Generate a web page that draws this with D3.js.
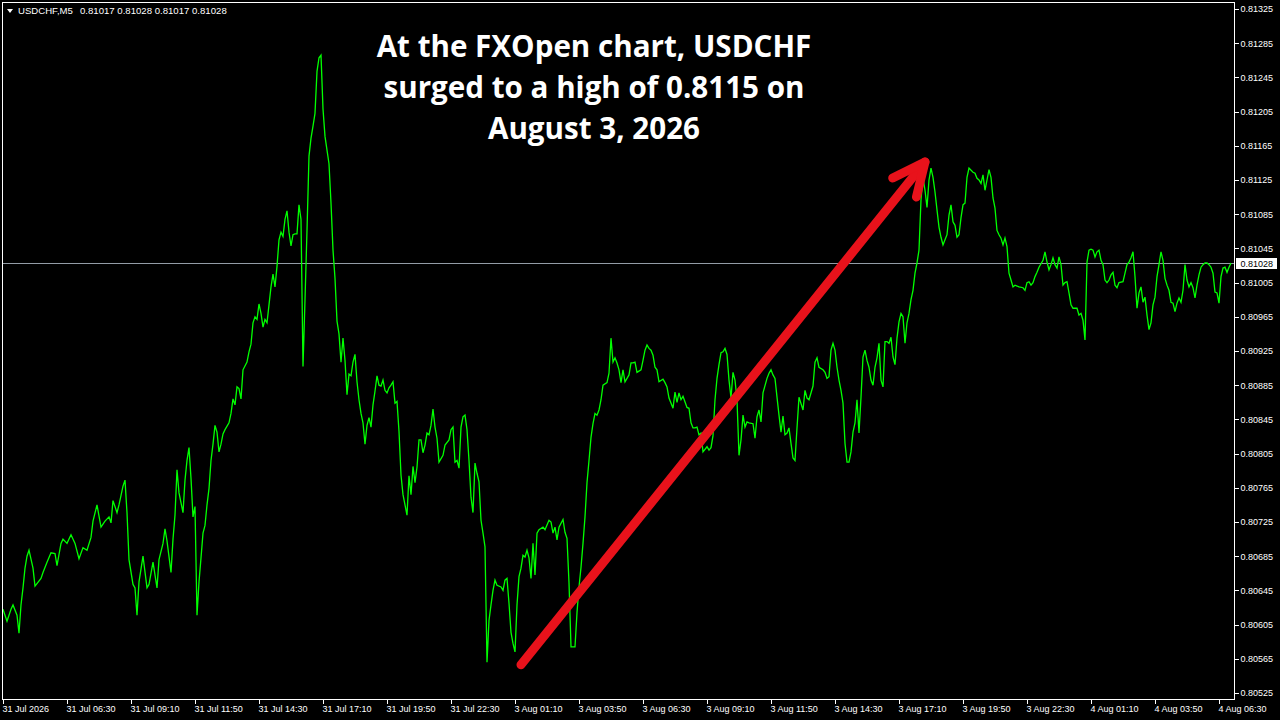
<!DOCTYPE html>
<html><head><meta charset="utf-8">
<script src="https://cdnjs.cloudflare.com/ajax/libs/d3/7.8.5/d3.min.js"></script>
<style>
html,body{margin:0;padding:0;background:#000;}
svg{display:block;}
.ax text{font-family:"Liberation Sans",Arial,sans-serif;font-size:9px;fill:#fff;}
.ax line{stroke:#fff;}
</style></head><body>
<script>
// ---- data: USDCHF M5 closes, [bar index from first bar, close price] ----
const symbol = "USDCHF,M5";
const lastOHLC = ["0.81017","0.81028","0.81017","0.81028"];
const bidPrice = 0.81028;
const closesJul31 = [[0,.80623],[2,.80609],[4,.80623],[5,.80628],[7,.80616],[8,.80595],[9,.80628],[10,.80648],[11,.80671],[12,.80685],[13,.80692],[15,.80671],[16,.80650],[19,.80659],[20,.80666],[22,.80678],[24,.80689],[26,.80688],[27,.80674],[29,.80700],[30,.80705],[32,.80700],[34,.80710],[36,.80700],[38,.80682],[40,.80695],[42,.80692],[44,.80707],[45,.80726],[47,.80745],[49,.80719],[51,.80726],[53,.80731],[54,.80724],[55,.80750],[57,.80736],[58,.80745],[60,.80767],[61,.80774],[62,.80736],[63,.80681],[65,.80652],[66,.80648],[67,.80616],[68,.80655],[70,.80685],[72,.80648],[73,.80652],[75,.80678],[77,.80648],[78,.80681],[80,.80700],[81,.80717],[82,.80703],[84,.80666],[85,.80705],[86,.80733],[87,.80786],[88,.80759],[90,.80736],[91,.80774],[92,.80797],[93,.80812],[94,.80776],[95,.80731],[96,.80743],[97,.80616],[98,.80655],[99,.80683],[100,.80712],[101,.80721],[102,.80745],[103,.80764],[104,.80797],[105,.80816],[106,.80838],[107,.80830],[108,.80807],[109,.80816],[110,.80828],[111,.80833],[113,.80841],[114,.80852],[115,.80869],[116,.80862],[117,.80883],[118,.80881],[119,.80869],[120,.80903],[122,.80912],[123,.80924],[124,.80933],[125,.80958],[126,.80965],[127,.80962],[128,.80980],[129,.80969],[130,.80953],[131,.80962],[132,.80958],[133,.80979],[134,.81000],[135,.81015],[136,.81000],[137,.81024],[138,.81055],[139,.81064],[140,.81059],[141,.81079],[142,.81089],[143,.81064],[144,.81048],[145,.81061],[146,.81062],[147,.81062],[148,.81096],[149,.81079],[150,.80907],[151,.80985],[152,.81066],[153,.81153],[154,.81174],[155,.81188],[156,.81203],[157,.81252],[158,.81268],[159,.81271],[160,.81208],[161,.81176],[162,.81160],[163,.81144],[164,.81098],[165,.81043],[166,.81010],[167,.80960],[168,.80945],[169,.80912],[170,.80940],[171,.80914],[172,.80874],[173,.80898],[174,.80896],[175,.80912],[176,.80921],[177,.80889],[178,.80868],[179,.80852],[180,.80841],[181,.80816],[182,.80838],[183,.80847],[184,.80836],[185,.80862],[186,.80878],[187,.80896],[188,.80885],[189,.80884],[190,.80891],[191,.80879],[192,.80876],[193,.80882],[194,.80885],[195,.80889],[196,.80864],[197,.80866],[198,.80831],[199,.80780],[200,.80757],[201,.80745],[202,.80733],[203,.80779],[204,.80757],[205,.80790],[206,.80771],[207,.80789],[208,.80821],[209,.80821],[210,.80806],[211,.80815],[212,.80829],[213,.80827],[214,.80838],[215,.80857],[216,.80836],[217,.80823],[218,.80795],[220,.80803],[221,.80815],[223,.80821],[224,.80833],[225,.80836],[226,.80795],[227,.80797],[228,.80788],[229,.80836],[230,.80848],[231,.80850],[232,.80833],[233,.80797],[234,.80754],[235,.80736],[236,.80794],[237,.80782],[238,.80772],[239,.80727],[240,.80712],[241,.80696]];
const closesAug3 = [[242,.80561],[243,.80610],[244,.80628],[245,.80645],[246,.80657],[247,.80651],[249,.80649],[250,.80645],[251,.80657],[252,.80659],[253,.80630],[254,.80596],[255,.80583],[256,.80573],[257,.80628],[258,.80661],[259,.80671],[260,.80686],[261,.80684],[262,.80692],[263,.80683],[264,.80659],[265,.80700],[266,.80663],[267,.80712],[268,.80716],[270,.80719],[271,.80716],[273,.80727],[274,.80725],[275,.80712],[276,.80719],[277,.80704],[278,.80719],[280,.80728],[281,.80713],[282,.80706],[283,.80654],[284,.80579],[285,.80579],[286,.80579],[287,.80619],[288,.80649],[289,.80672],[290,.80700],[291,.80731],[292,.80771],[293,.80797],[294,.80824],[295,.80840],[296,.80852],[297,.80850],[298,.80856],[299,.80868],[300,.80885],[302,.80888],[303,.80899],[304,.80940],[305,.80912],[306,.80917],[307,.80911],[308,.80903],[309,.80888],[310,.80903],[311,.80889],[312,.80893],[313,.80897],[314,.80911],[315,.80911],[316,.80912],[317,.80900],[319,.80903],[320,.80914],[321,.80926],[322,.80932],[323,.80928],[324,.80926],[325,.80920],[326,.80906],[327,.80903],[328,.80889],[330,.80892],[331,.80888],[332,.80883],[333,.80870],[335,.80858],[336,.80877],[337,.80865],[338,.80876],[339,.80868],[340,.80872],[342,.80859],[343,.80858],[344,.80841],[345,.80835],[346,.80835],[347,.80836],[348,.80827],[349,.80829],[350,.80807],[352,.80813],[353,.80809],[354,.80812],[355,.80826],[356,.80868],[357,.80893],[358,.80909],[359,.80923],[360,.80924],[361,.80928],[362,.80921],[363,.80891],[364,.80870],[365,.80900],[366,.80891],[367,.80868],[368,.80803],[369,.80821],[370,.80850],[371,.80836],[372,.80842],[373,.80841],[375,.80840],[376,.80823],[377,.80848],[378,.80856],[379,.80842],[380,.80876],[382,.80893],[383,.80899],[384,.80903],[385,.80897],[386,.80893],[387,.80871],[388,.80850],[389,.80830],[390,.80849],[391,.80827],[392,.80829],[393,.80835],[394,.80817],[395,.80800],[396,.80797],[397,.80835],[398,.80871],[400,.80856],[401,.80879],[402,.80870],[403,.80868],[405,.80884],[406,.80912],[407,.80917],[408,.80906],[410,.80903],[411,.80900],[412,.80893],[413,.80895],[414,.80926],[415,.80934],[416,.80926],[417,.80906],[418,.80891],[419,.80879],[420,.80864],[421,.80817],[422,.80795],[423,.80795],[424,.80807],[425,.80830],[426,.80841],[427,.80868],[428,.80829],[429,.80871],[430,.80918],[431,.80926],[432,.80914],[433,.80906],[434,.80891],[435,.80885],[436,.80906],[437,.80917],[438,.80934],[439,.80891],[440,.80883],[441,.80936],[442,.80936],[443,.80934],[444,.80941],[445,.80918],[446,.80909],[447,.80940],[448,.80959],[449,.80969],[450,.80965],[451,.80934],[452,.80958],[453,.80969],[454,.80985],[455,.80996],[456,.81016],[457,.81028],[458,.81043],[459,.81102],[460,.81128],[461,.81113],[462,.81093],[463,.81125],[464,.81139],[465,.81128],[466,.81111],[467,.81090],[468,.81070],[469,.81058],[470,.81049],[471,.81055],[472,.81061],[473,.81084],[474,.81096],[475,.81076],[476,.81072],[477,.81058],[478,.81061],[479,.81081],[480,.81096],[481,.81098],[482,.81128],[483,.81139],[485,.81134],[486,.81133],[487,.81127],[488,.81125],[489,.81121],[490,.81131],[491,.81113],[492,.81125],[493,.81137],[494,.81128],[495,.81104],[496,.81092],[497,.81066],[498,.81061],[499,.81057],[500,.81049],[501,.81057],[502,.81047],[503,.81016],[504,.81008],[505,.81000],[506,.81002],[508,.81000],[510,.80999],[511,.80996],[512,.81005],[513,.81006],[514,.81002],[515,.81005],[516,.81012],[517,.81017],[518,.81023],[520,.81031],[521,.81041],[522,.81029],[523,.81020],[524,.81026],[525,.81034],[526,.81026],[527,.81022],[528,.81035],[529,.81026]];
const closesAug4 = [[530,.81002],[531,.81005],[532,.81006],[533,.80993],[534,.80979],[535,.80975],[536,.80975],[537,.80975],[538,.80967],[539,.80969],[540,.80961],[541,.80938],[542,.81029],[543,.81043],[544,.81044],[545,.81043],[546,.81035],[547,.81041],[548,.81043],[549,.81031],[550,.81026],[551,.81008],[552,.81005],[553,.81008],[554,.81014],[555,.81017],[556,.81002],[557,.80999],[558,.81005],[560,.81006],[561,.81016],[562,.81026],[563,.81029],[564,.81034],[565,.81041],[566,.81012],[567,.80975],[568,.80993],[569,.81000],[570,.80982],[571,.80988],[572,.80967],[573,.80950],[574,.80958],[575,.80979],[576,.80988],[577,.81012],[578,.81026],[579,.81041],[580,.81031],[581,.81010],[582,.81002],[583,.80996],[584,.80982],[585,.80981],[586,.80971],[587,.80981],[588,.80987],[589,.80982],[590,.80996],[591,.81026],[592,.81008],[593,.81000],[594,.81005],[595,.80999],[596,.80987],[597,.81002],[598,.81014],[599,.81023],[600,.81026],[601,.81028],[602,.81028],[603,.81026],[604,.81023],[605,.81016],[606,.80994],[607,.80993],[608,.80981],[609,.81012],[610,.81022],[611,.81023],[612,.81017],[613,.81023],[614,.81028]];
const priceTicks = [0.80525,0.80565,0.80605,0.80645,0.80685,0.80725,0.80765,0.80805,0.80845,0.80885,0.80925,0.80965,0.81005,0.81045,0.81085,0.81125,0.81165,0.81205,0.81245,0.81285,0.81325];
const timeTickBars = [0,32,64,96,128,160,192,224,256,288,320,352,384,416,448,480,512,544,576,608];
const timeTickLabels = ["31 Jul 2026","31 Jul 06:30","31 Jul 09:10","31 Jul 11:50","31 Jul 14:30","31 Jul 17:10","31 Jul 19:50","31 Jul 22:30","3 Aug 01:10","3 Aug 03:50","3 Aug 06:30","3 Aug 09:10","3 Aug 11:50","3 Aug 14:30","3 Aug 17:10","3 Aug 19:50","3 Aug 22:30","4 Aug 01:10","4 Aug 03:50","4 Aug 06:30"];
const titleLines = ["At the FXOpen chart, USDCHF","surged to a high of 0.8115 on","August 3, 2026"];
const arrowFrom = [259, 0.80558];
const arrowTo = [461, 0.81146];

const W = 1280, H = 720;
const plot = {left:2, right:1234, top:2, bottom:699};
const svg = d3.select("body").append("svg").attr("width",W).attr("height",H).style("background","#000");

const x = d3.scaleLinear().domain([0, 616]).range([3, 1235]);
const y = d3.scaleLinear().domain([0.80525, 0.81325]).range([693, 9]);

// bid line
const by = Math.round(y(bidPrice)) + 0.5;
svg.append("line").attr("x1",plot.left).attr("x2",plot.right).attr("y1",by).attr("y2",by)
  .attr("stroke","#939ca6").attr("stroke-width",1).attr("shape-rendering","crispEdges");

// price line
const all = closesJul31.concat(closesAug3, closesAug4);
const line = d3.line().x(d => x(d[0])).y(d => y(d[1]));
svg.append("path").datum(all).attr("d", line).attr("fill","none")
  .attr("stroke","#00ff00").attr("stroke-width",1.3).attr("stroke-linejoin","miter");

// frame
svg.append("rect").attr("x",plot.left+0.5).attr("y",plot.top+0.5)
  .attr("width",plot.right-plot.left).attr("height",plot.bottom-plot.top)
  .attr("fill","none").attr("stroke","#fff").attr("shape-rendering","crispEdges");

// right price axis
const ya = svg.append("g").attr("class","ax").attr("transform",`translate(${plot.right+0.5},0)`)
  .call(d3.axisRight(y).tickValues(priceTicks).tickSize(4).tickPadding(2).tickFormat(d3.format(".5f")));
ya.select(".domain").remove();
ya.selectAll("line").attr("shape-rendering","crispEdges");

// bottom time axis
const xa = svg.append("g").attr("class","ax").attr("transform",`translate(0,${plot.bottom+0.5})`)
  .call(d3.axisBottom(x).tickValues(timeTickBars).tickSize(4).tickPadding(2).tickFormat((d,i)=>timeTickLabels[i]));
xa.select(".domain").remove();
xa.selectAll("line").attr("shape-rendering","crispEdges");
xa.selectAll("text").attr("text-anchor","start").attr("x",-1);

// bid price label
svg.append("rect").attr("x",plot.right+2).attr("y",by-5.5).attr("width",41).attr("height",11).attr("fill","#fff");
svg.append("text").attr("x",plot.right+6.5).attr("y",by).attr("dy","0.34em")
  .style("font-family","'Liberation Sans',Arial,sans-serif").style("font-size","9px").attr("fill","#000")
  .text(d3.format(".5f")(bidPrice));

// header
svg.append("path").attr("d","M7,9 L13,9 L10,13 Z").attr("fill","#fff");
svg.append("text").attr("x",18).attr("y",14).style("font-family","'Liberation Sans',Arial,sans-serif")
  .style("font-size","9.6px").attr("fill","#fff").text(symbol);
svg.append("text").attr("x",80).attr("y",14).style("font-family","'Liberation Sans',Arial,sans-serif")
  .style("font-size","9.6px").attr("fill","#fff").text(lastOHLC.join(" "));

// title
svg.append("g").selectAll("text").data(titleLines).join("text")
  .attr("x",594).attr("y",(d,i)=>57+i*41).attr("text-anchor","middle")
  .style("font-family","'Open Sans',sans-serif").style("font-weight","700").style("font-size","29.6px")
  .attr("fill","#fff").text(d=>d);

// red arrow
const ax0 = x(arrowFrom[0]), ay0 = y(arrowFrom[1]), ax1 = x(arrowTo[0]), ay1 = y(arrowTo[1]);
const ang = Math.atan2(ay0-ay1, ax0-ax1);
const hl = 36, spread = 25*Math.PI/180;
const red = "#e8121b";
const ag = svg.append("g").attr("stroke",red).attr("stroke-width",9).attr("stroke-linecap","round").attr("fill","none");
ag.append("line").attr("x1",ax0).attr("y1",ay0).attr("x2",ax1).attr("y2",ay1);
ag.append("path").attr("stroke-linejoin","round")
  .attr("d",`M${ax1+hl*Math.cos(ang+spread)},${ay1+hl*Math.sin(ang+spread)} L${ax1},${ay1} L${ax1+hl*Math.cos(ang-spread)},${ay1+hl*Math.sin(ang-spread)}`);
</script>
</body></html>
